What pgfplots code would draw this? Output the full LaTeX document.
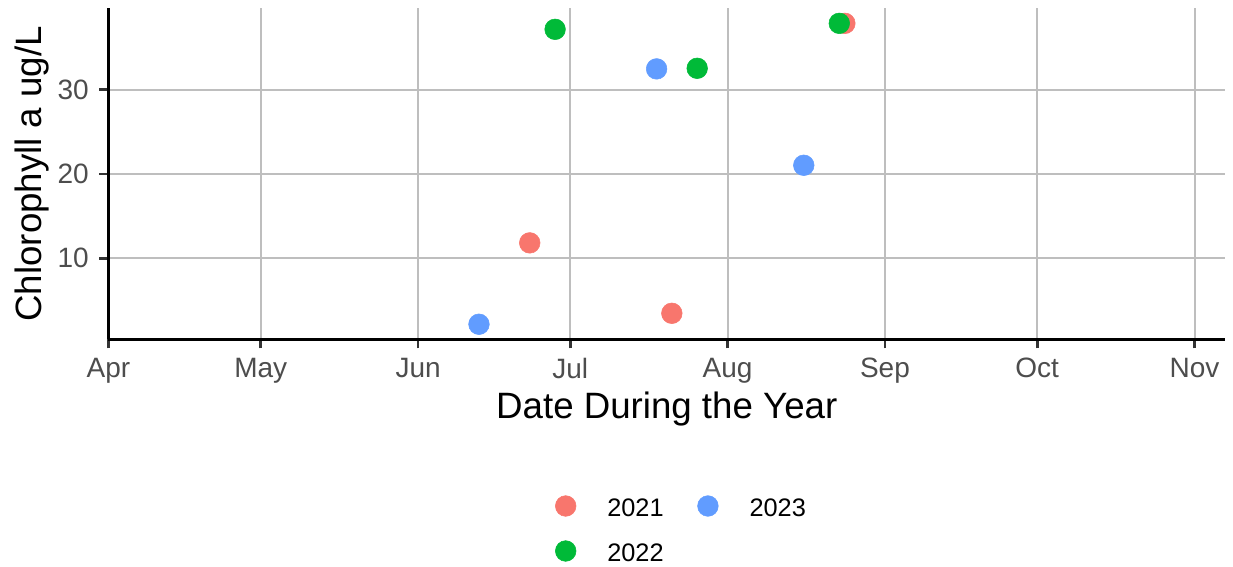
\documentclass[border=0pt]{standalone}
\usepackage{fontspec}
\setmainfont{Liberation Sans}
\usepackage{pgfplots}
\pgfplotsset{compat=1.18}
\definecolor{c21}{HTML}{F8766D}
\definecolor{c22}{HTML}{00BA38}
\definecolor{c23}{HTML}{619CFF}
\definecolor{gridc}{HTML}{BEBEBE}
\definecolor{tickc}{HTML}{333333}
\definecolor{labc}{HTML}{4D4D4D}
\begin{document}
\begin{tikzpicture}
\path[use as bounding box] (-81.375pt,-170.775pt) rectangle (843.375pt,254.475pt);
\begin{axis}[
  at={(0pt,0pt)}, anchor=south west,
  scale only axis, width=837.375pt, height=248.25pt,
  xmin=0, xmax=220, ymin=0.386, ymax=39.634,
  axis lines*=left, axis line style={-, line width=2.1pt, black},
  xtick={0,30,61,91,122,153,183,214},
  xticklabels={Apr,May,Jun,Jul,Aug,Sep,Oct,Nov},
  ytick={10,20,30},
  tick align=outside, major tick length=6.75pt,
  tick style={tickc, line width=2pt},
  grid=major, major grid style={gridc, line width=1.5pt},
  ticklabel style={font=\fontsize{21}{25}\selectfont, text=labc},
  xticklabel style={yshift=-3.75pt},
  yticklabel style={xshift=-4.5pt},
  /pgf/number format/assume math mode=true,
  xlabel={Date During the Year}, ylabel={Chlorophyll a ug/L},
  label style={font=\fontsize{27.5}{32}\selectfont},
  xlabel style={at={(axis description cs:0.5,-0.23867)}, anchor=base},
  ylabel style={at={(axis description cs:-0.0689,0.5)}, anchor=center},
  legend columns=2,
  legend image code/.code={\path[draw=none,fill=none] (-10pt,-10pt) rectangle (31.2pt,23.75pt); \draw[#1] plot coordinates {(0pt,8pt)};},
  legend style={draw=none, fill=none, inner sep=0pt, outer sep=0pt, column sep=0pt, row sep=0pt,
    at={(axis description cs:0.39756,-0.44018)}, anchor=north west,
    nodes={inner sep=0pt, anchor=base west, font=\fontsize{19}{23}\selectfont},
    /tikz/every even column/.append style={column sep=23.2pt}},
]
\addplot[only marks, mark=*, color=c21, mark size=7.75pt, mark options={draw=none}] coordinates {(83,11.82) (111,3.47) (145.1,37.85)};
\addlegendentry{2021}
\addplot[only marks, mark=*, color=c23, mark size=7.75pt, mark options={draw=none}] coordinates {(73,2.17) (108,32.45) (137,21.02)};
\addlegendentry{2023}
\addplot[only marks, mark=*, color=c22, mark size=7.75pt, mark options={draw=none}] coordinates {(88,37.14) (116,32.52) (144,37.85)};
\addlegendentry{2022}
\end{axis}
\end{tikzpicture}
\end{document}
